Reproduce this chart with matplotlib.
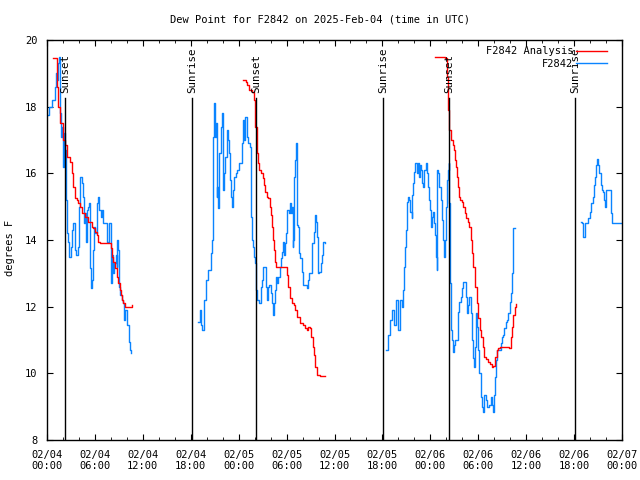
import matplotlib
matplotlib.use('Agg')
import matplotlib.pyplot as plt
import numpy as np

# hours after 2025-02-04 00:00 UTC
obs1_t = [0.16, 0.19, 0.59, 1.0, 1.06, 1.13, 1.29, 1.41, 1.54, 1.63, 1.72, 1.84, 1.97, 2.04, 2.13, 2.25,
          2.34, 2.38, 2.47, 2.67, 2.79, 2.97, 3.09, 3.22, 3.51, 3.63, 3.79, 3.92, 4.04, 4.13, 4.35, 4.47,
          4.63, 4.76, 4.85, 4.95, 5.13, 5.30, 5.38, 5.51, 5.67, 5.80, 5.89, 6.01, 6.22, 6.30, 6.42, 6.55,
          6.72, 6.85, 6.95, 7.48, 7.55, 7.76, 7.80, 7.98, 8.01, 8.10, 8.23, 8.39, 8.64, 8.73, 8.80, 8.93,
          8.99, 9.05, 9.14, 9.35, 9.55, 9.68, 9.80, 9.98, 10.06, 10.27, 10.39, 10.56]
obs1_v = [17.75, 18.0, 18.2, 18.2, 18.6, 19.0, 18.8, 19.3, 19.5, 17.8, 17.1, 17.4, 16.8, 16.2, 17.2, 16.7,
          15.6, 15.2, 14.2, 13.95, 13.5, 13.8, 14.3, 14.5, 13.7, 13.55, 13.55, 13.8, 15.0, 15.9, 15.7, 15.3,
          14.5, 14.8, 13.95, 14.9, 15.0, 15.1, 13.15, 12.55, 12.8, 13.7, 14.4, 14.2, 14.8, 15.1, 15.3, 14.9,
          14.7, 14.9, 14.5, 14.2, 13.95, 13.95, 14.5, 14.5, 12.7, 13.55, 13.0, 13.3, 13.55, 13.2, 14.0, 13.7,
          13.0, 12.6, 12.35, 12.2, 12.1, 11.6, 11.9, 11.75, 11.45, 10.95, 10.7, 10.6]

obs2_t = [18.85, 19.10, 19.28, 19.47, 19.66, 19.91, 20.16, 20.50, 20.62, 20.75, 20.82, 20.91, 21.04, 21.16,
          21.25, 21.32, 21.45, 21.57, 21.75, 21.87, 22.00, 22.08, 22.20, 22.33, 22.50, 22.63, 22.79, 22.92,
          23.04, 23.17, 23.25, 23.42, 23.63, 23.83, 24.08, 24.38, 24.58, 24.71, 24.79, 25.01, 25.21, 25.42,
          25.51, 25.63, 25.76, 25.92, 26.05, 26.17, 26.33, 26.58, 26.76, 26.92, 27.09, 27.30, 27.42, 27.59,
          27.71, 27.84, 28.01, 28.14, 28.34, 28.46, 28.59, 28.67, 28.84, 28.92, 29.18, 29.26, 29.39, 29.51,
          29.59, 29.71, 29.80, 29.93, 30.01, 30.09, 30.34, 30.43, 30.55, 30.68, 30.77, 30.84, 30.97, 31.09,
          31.18, 31.27, 31.34, 31.47, 31.59, 31.68, 31.89, 32.01, 32.09, 32.43, 32.59, 32.72, 32.84, 33.14,
          33.22, 33.43, 33.56, 33.68, 33.85, 33.93, 34.10, 34.27, 34.40, 34.52, 34.60, 34.81]
obs2_v = [11.55, 11.9, 11.45, 11.3, 12.2, 12.8, 13.1, 13.6, 14.0, 15.2, 17.1, 18.1, 17.1, 17.5,
          15.3, 15.6, 14.95, 16.6, 17.4, 17.8, 17.4, 15.5, 16.0, 16.5, 17.3, 17.0, 16.6, 15.8,
          15.3, 15.0, 15.5, 15.9, 16.0, 16.1, 16.3, 16.9, 17.6, 17.0, 17.7, 17.1, 16.9, 16.8,
          14.7, 14.0, 13.8, 13.5, 13.3, 12.5, 12.2, 12.1, 12.6, 12.8, 13.2, 13.2, 12.6, 12.2,
          12.6, 12.65, 12.4, 12.1, 11.75, 12.1, 12.5, 12.9, 12.7, 12.9, 13.2, 13.45, 13.65, 13.85,
          13.95, 13.55, 13.9, 14.2, 14.55, 14.9, 14.8, 15.1, 14.8, 15.0, 13.8, 14.0, 15.9, 16.4,
          16.9, 15.4, 14.45, 14.4, 13.6, 13.45, 13.05, 12.9, 12.65, 12.65, 12.55, 12.8, 13.0, 13.3,
          13.9, 14.25, 14.75, 14.55, 14.1, 13.0, 13.05, 13.3, 13.55, 13.8, 13.95, 13.9]

obs3_t = [42.45, 42.70, 42.95, 43.20, 43.45, 43.70, 43.95, 44.20, 44.45, 44.61, 44.70, 44.83, 44.95, 45.04,
          45.11, 45.24, 45.37, 45.45, 45.67, 45.74, 45.87, 45.99, 46.12, 46.29, 46.42, 46.54, 46.71, 46.87,
          47.00, 47.12, 47.25, 47.42, 47.54, 47.67, 47.83, 47.96, 48.08, 48.25, 48.37, 48.50, 48.58, 48.71,
          48.80, 48.87, 49.00, 49.12, 49.30, 49.42, 49.55, 49.71, 49.84, 49.96, 50.12, 50.25, 50.34, 50.40,
          50.46, 50.59, 50.75, 50.88, 51.00, 51.13, 51.30, 51.50, 51.63, 51.84, 52.00, 52.13, 52.34, 52.47,
          52.63, 52.76, 52.88, 53.06, 53.18, 53.31, 53.43, 53.56, 53.72, 53.84, 53.97, 54.13, 54.31, 54.43,
          54.63, 54.76, 54.97, 55.13, 55.38, 55.56, 55.68, 55.81, 55.97, 56.10, 56.22, 56.39, 56.73, 56.81,
          56.94, 57.14, 57.23, 57.44, 57.64, 57.76, 57.98, 58.10, 58.23, 58.31, 58.39, 58.64]
obs3_v = [10.7, 11.15, 11.6, 11.9, 11.45, 12.2, 11.3, 12.2, 12.0, 12.5, 13.2, 13.8, 14.3, 14.9,
          15.15, 15.3, 15.2, 14.85, 14.65, 15.35, 15.7, 16.05, 16.3, 16.0, 16.3, 15.9, 16.25, 16.1,
          15.7, 15.6, 16.1, 16.3, 16.0, 15.6, 15.2, 14.9, 14.4, 14.7, 14.85, 14.5, 14.15, 13.5,
          13.1, 16.1, 16.0, 15.6, 15.2, 14.6, 14.0, 13.5, 14.0, 15.0, 15.8, 16.1, 16.3, 15.1,
          12.7, 11.3, 11.0, 10.65, 10.85, 11.0, 11.0, 11.85, 12.15, 12.3, 12.55, 12.73, 12.73, 12.3,
          11.8, 12.05, 12.3, 11.8, 11.0, 10.45, 10.2, 10.8, 11.8, 11.4, 10.7, 10.0, 9.3, 9.0,
          8.85, 9.35, 9.2, 9.0, 9.05, 9.3, 9.05, 8.85, 9.35, 9.9, 10.4, 10.7, 10.7, 10.9,
          11.1, 11.15, 11.35, 11.55, 11.6, 11.8, 12.15, 12.4, 13.0, 13.9, 14.37, 14.35]

obs4_t = [66.87, 67.03, 67.16, 67.37, 67.66, 67.78, 67.99, 68.16, 68.33, 68.50, 68.66, 68.78, 68.91,
          69.03, 69.16, 69.33, 69.50, 69.66, 69.79, 69.91, 70.04, 70.50, 70.63, 70.75, 72.0]
obs4_v = [14.55, 14.5, 14.1, 14.52, 14.52, 14.65, 14.85, 15.1, 15.3, 15.65, 15.9, 16.25, 16.42,
          16.25, 16.0, 15.65, 15.5, 15.45, 15.2, 15.0, 15.5, 15.5, 14.8, 14.52, 14.52]

ana1_t = [0.71, 1.13, 1.19, 1.41, 1.63, 1.97, 2.25, 2.47, 2.88, 3.09, 3.29, 3.51, 3.72, 3.92, 4.13, 4.42,
          4.76, 5.17, 5.60, 5.80, 6.01, 6.22, 6.42, 6.64, 7.80, 7.98, 8.10, 8.30, 8.51, 8.73, 8.93, 9.14,
          9.27, 9.43, 9.55, 9.77, 10.18, 10.61]
ana1_v = [19.45, 19.45, 18.6, 18.0, 17.5, 17.0, 16.85, 16.5, 16.35, 16.0, 15.6, 15.25, 15.2, 15.1, 15.0, 14.8,
          14.7, 14.55, 14.4, 14.35, 14.25, 14.15, 13.95, 13.9, 13.9, 13.75, 13.5, 13.35, 13.15, 12.9, 12.7, 12.5,
          12.35, 12.2, 12.1, 12.0, 12.0, 12.05]

ana2_t = [24.58, 24.92, 25.08, 25.33, 25.63, 25.83, 25.96, 26.05, 26.26, 26.33, 26.46, 26.58, 26.76, 27.01,
          27.17, 27.30, 27.51, 27.71, 27.92, 28.05, 28.17, 28.34, 28.46, 28.55, 28.67, 29.80, 30.01, 30.22,
          30.43, 30.64, 30.93, 31.09, 31.34, 31.68, 32.01, 32.31, 32.52, 32.72, 32.93, 33.06, 33.27, 33.43,
          33.60, 33.77, 34.18, 34.81]
ana2_v = [18.8, 18.75, 18.65, 18.5, 18.45, 18.45, 18.2, 17.4, 16.8, 16.6, 16.3, 16.1, 16.0, 15.85,
          15.65, 15.45, 15.3, 15.25, 15.0, 14.75, 14.4, 14.0, 13.7, 13.35, 13.2, 13.2, 12.95, 12.6,
          12.25, 12.1, 12.05, 11.9, 11.7, 11.5, 11.45, 11.35, 11.3, 11.4, 11.35, 11.1, 10.8, 10.55,
          10.2, 9.95, 9.93, 9.92]

ana3_t = [48.58, 49.34, 49.84, 50.09, 50.22, 50.34, 50.59, 50.81, 50.97, 51.09, 51.22, 51.30, 51.43, 51.55,
          51.72, 51.93, 52.13, 52.31, 52.47, 52.68, 52.88, 53.06, 53.18, 53.39, 53.56, 53.59, 53.80, 54.01,
          54.22, 54.34, 54.55, 54.71, 54.97, 55.26, 55.47, 55.68, 55.88, 56.10, 56.31, 56.51, 56.73, 57.89,
          58.06, 58.23, 58.39, 58.56, 58.69]
ana3_v = [19.5, 19.48, 19.45, 18.9, 17.9, 17.3, 17.0, 16.85, 16.7, 16.4, 16.2, 15.9, 15.6, 15.3,
          15.2, 15.15, 15.0, 14.8, 14.65, 14.55, 14.4, 14.0, 13.6, 13.2, 12.9, 12.6, 12.1, 11.65,
          11.3, 11.08, 10.8, 10.48, 10.42, 10.35, 10.28, 10.2, 10.22, 10.5, 10.7, 10.75, 10.78, 10.77,
          11.1, 11.4, 11.75, 12.0, 12.08]

sun_t = [2.25, 18.16, 26.17, 42.07, 50.34, 66.12]
sun_lbl = ['Sunset', 'Sunrise', 'Sunset', 'Sunrise', 'Sunset', 'Sunrise']

xtick_t = list(range(0, 73, 6))
xtick_lbl = ['02/04\n00:00', '02/04\n06:00', '02/04\n12:00', '02/04\n18:00',
             '02/05\n00:00', '02/05\n06:00', '02/05\n12:00', '02/05\n18:00',
             '02/06\n00:00', '02/06\n06:00', '02/06\n12:00', '02/06\n18:00',
             '02/07\n00:00']


def join(segs):
    # put NaN between segments so the line breaks at data gaps
    t, v = [], []
    for st, sv in segs:
        t += list(st) + [np.nan]
        v += list(sv) + [np.nan]
    return np.array(t), np.array(v)


plt.rcParams['font.family'] = ['DejaVu Sans Mono']
plt.rcParams['font.size'] = 7.5

fig = plt.figure(figsize=(6.4, 4.8), dpi=100)
ax = fig.add_axes([47/640, 40/480, 575/640, 400/480])

ot, ov = join([(obs1_t, obs1_v), (obs2_t, obs2_v), (obs3_t, obs3_v), (obs4_t, obs4_v)])
at, av = join([(ana1_t, ana1_v), (ana2_t, ana2_v), (ana3_t, ana3_v)])

ax.plot(ot, ov, color='#0a84ff', lw=1.0, drawstyle='steps-post', label='F2842', zorder=2)
ax.plot(at, av, color='#ff0000', lw=1.0, drawstyle='steps-post', label='F2842 Analysis', zorder=3)

for t, lbl in zip(sun_t, sun_lbl):
    ax.plot([t, t], [8, 18.25], color='black', lw=1.0, zorder=4)
    ax.text(t, 18.42, lbl, rotation=90, ha='center', va='bottom', fontsize=7.8)

ax.set_xlim(0, 72)
ax.set_ylim(8, 20)
ax.set_xticks(xtick_t)
ax.set_xticklabels(xtick_lbl)
ax.set_xticks(np.arange(0, 73, 2), minor=True)
ax.set_yticks(np.arange(8, 21, 2))
ax.tick_params(which='both', direction='in', top=True, right=True)
ax.tick_params(which='major', length=4, pad=7)
ax.tick_params(which='minor', length=2.2)
for s in ax.spines.values():
    s.set_linewidth(1.0)

h, l = ax.get_legend_handles_labels()
ax.legend(h[::-1], l[::-1], loc='upper right', bbox_to_anchor=(0.982, 0.995), frameon=False,
          markerfirst=False, handlelength=3.0, handletextpad=0.3, labelspacing=0.25,
          borderaxespad=0.0, fontsize=7.5)

fig.text(0.5, 1 - 19/480, 'Dew Point for F2842 on 2025-Feb-04 (time in UTC)', ha='center', va='center')
fig.text(10/640, 0.484, 'degrees F', rotation=90, ha='center', va='center')

fig.savefig('out.png', dpi=100)
